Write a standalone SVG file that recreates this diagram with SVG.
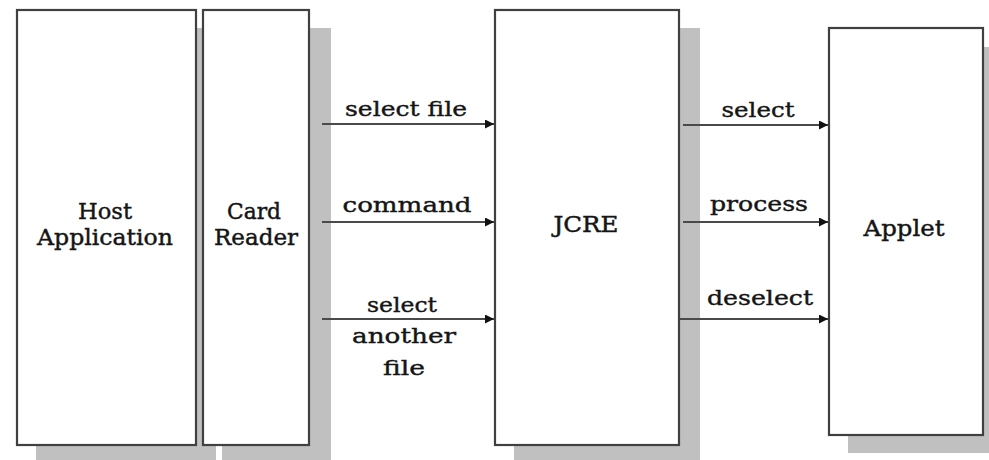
<svg xmlns="http://www.w3.org/2000/svg" width="989" height="460" viewBox="0 0 989 460">
<defs>
<style>
.shadow{fill:#c0c0c0;stroke:none}
.box{fill:#ffffff;stroke:#404040;stroke-width:2.2}
.nl{font-family:"DejaVu Serif","Liberation Serif",serif;font-size:23px;fill:#151515;stroke:#151515;stroke-width:0.45;text-anchor:middle}
.el{font-family:"DejaVu Serif","Liberation Serif",serif;font-size:21px;fill:#151515;stroke:#151515;stroke-width:0.4;text-anchor:middle}
.conn{stroke:#4a4a4a;stroke-width:2.2;fill:none;marker-end:url(#ah)}
</style>
<marker id="ah" viewBox="0 0 10 10" refX="10" refY="5" markerWidth="10" markerHeight="9" markerUnits="userSpaceOnUse" orient="auto">
<path d="M0,0 L10,5 L0,10 z" fill="#111"/>
</marker>
</defs>
<rect width="989" height="460" fill="#ffffff"/>
<g id="host">
<rect class="shadow" x="36" y="28" width="180" height="436"/>
<rect class="box" x="17" y="10" width="179" height="435"/>
<text class="nl" x="105" y="219" textLength="54" lengthAdjust="spacingAndGlyphs">Host</text>
<text class="nl" x="105" y="245" textLength="136" lengthAdjust="spacingAndGlyphs">Application</text>
</g>
<g id="cardreader">
<rect class="shadow" x="222" y="28" width="109" height="436"/>
<rect class="box" x="203" y="10" width="106" height="435"/>
<text class="nl" x="254" y="219" textLength="54" lengthAdjust="spacingAndGlyphs">Card</text>
<text class="nl" x="256" y="245" textLength="84" lengthAdjust="spacingAndGlyphs">Reader</text>
</g>
<g id="jcre">
<rect class="shadow" x="514" y="28" width="186" height="436"/>
<rect class="box" x="495" y="10" width="184" height="435"/>
<text class="nl" x="586" y="232" textLength="65" lengthAdjust="spacingAndGlyphs">JCRE</text>
</g>
<g id="applet">
<rect class="shadow" x="848" y="47" width="160" height="406"/>
<rect class="box" x="829" y="28" width="154" height="407"/>
<text class="nl" x="904" y="236" textLength="81" lengthAdjust="spacingAndGlyphs">Applet</text>
</g>
<g id="connectors">
<line class="conn" x1="322" y1="124" x2="494" y2="124"/>
<line class="conn" x1="322" y1="222" x2="494" y2="222"/>
<line class="conn" x1="322" y1="319" x2="494" y2="319"/>
<line class="conn" x1="683" y1="125" x2="828" y2="125"/>
<line class="conn" x1="683" y1="222" x2="828" y2="222"/>
<line class="conn" x1="680" y1="319" x2="828" y2="319"/>
<text class="el" x="406" y="116" textLength="122" lengthAdjust="spacingAndGlyphs">select file</text>
<text class="el" x="407" y="212" textLength="129" lengthAdjust="spacingAndGlyphs">command</text>
<text class="el" x="402" y="312" textLength="70" lengthAdjust="spacingAndGlyphs">select</text>
<text class="el" x="404" y="343" textLength="104" lengthAdjust="spacingAndGlyphs">another</text>
<text class="el" x="404" y="375" textLength="42" lengthAdjust="spacingAndGlyphs">file</text>
<text class="el" x="758" y="117" textLength="73" lengthAdjust="spacingAndGlyphs">select</text>
<text class="el" x="759" y="211" textLength="98" lengthAdjust="spacingAndGlyphs">process</text>
<text class="el" x="760" y="305" textLength="106" lengthAdjust="spacingAndGlyphs">deselect</text>
</g>
</svg>
